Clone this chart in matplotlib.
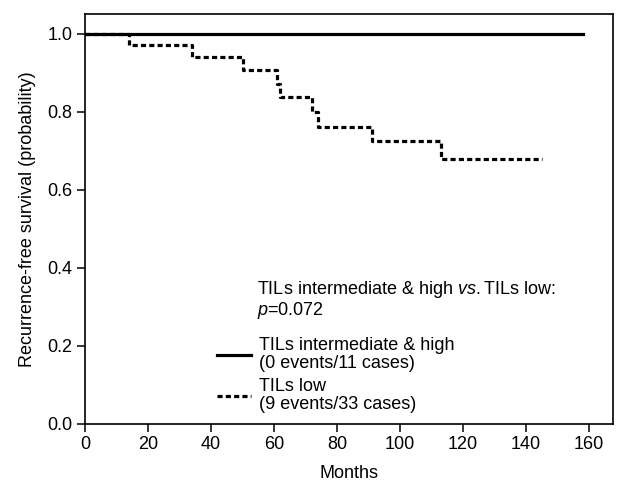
import matplotlib
matplotlib.use("Agg")
import matplotlib.pyplot as plt
from matplotlib.lines import Line2D

plt.rcParams['font.family'] = ['Liberation Sans', 'DejaVu Sans']
plt.rcParams['mathtext.fontset'] = 'custom'
plt.rcParams['mathtext.rm'] = 'Liberation Sans'
plt.rcParams['mathtext.it'] = 'Liberation Sans:italic'

# Kaplan-Meier steps
high_months = [0, 158]
high_surv = [1.0, 1.0]

low_months = [0, 14, 34, 50, 61, 62, 72, 74, 91, 113, 145]
low_surv = [1.0, 0.970, 0.939, 0.906, 0.872, 0.838, 0.800, 0.762, 0.726, 0.680, 0.680]

x_ticks = [0, 20, 40, 60, 80, 100, 120, 140, 160]
y_ticks = [0.0, 0.2, 0.4, 0.6, 0.8, 1.0]

fig = plt.figure(figsize=(6.22, 4.86), dpi=100)
ax = fig.add_axes([0.1367, 0.1276, 0.8488, 0.8434])

ax.plot(high_months, high_surv, drawstyle='steps-post', color='black', lw=2.3)
ax.plot(low_months, low_surv, drawstyle='steps-post', color='black', lw=2.3,
        linestyle=(0, (1.6, 1.0)))

ax.set_xlim(0, 167.6)
ax.set_ylim(0, 1.05)
ax.set_xticks(x_ticks)
ax.set_yticks(y_ticks)
ax.set_yticklabels([f"{v:.1f}" for v in y_ticks])
ax.tick_params(direction='out', length=6, width=1.1, labelsize=13, pad=3, colors='black')
for s in ax.spines.values():
    s.set_linewidth(1.2)

ax.set_xlabel('Months', fontsize=13, labelpad=8)
ax.set_ylabel('Recurrence-free survival (probability)', fontsize=13, labelpad=8)

ax.text(0.325, 0.353, r'TILs intermediate & high $\mathit{vs.}$TILs low:' + '\n' + r'$\mathit{p}$=0.072',
        transform=ax.transAxes, fontsize=13, va='top', ha='left', linespacing=0.95)

handles = [Line2D([], [], color='black', lw=2.3),
           Line2D([], [], color='black', lw=2.3, linestyle=(0, (1.6, 1.0)))]
labels = ['TILs intermediate & high\n(0 events/11 cases)', 'TILs low\n(9 events/33 cases)']
ax.legend(handles, labels, loc='upper left', bbox_to_anchor=(0.25, 0.212), frameon=False,
          handlelength=1.9, handletextpad=0.45, borderpad=0, borderaxespad=0,
          labelspacing=0.35, prop={'size': 13})
for t in ax.get_legend().get_texts():
    t.set_linespacing(1.05)

fig.savefig('out.png', dpi=100)
